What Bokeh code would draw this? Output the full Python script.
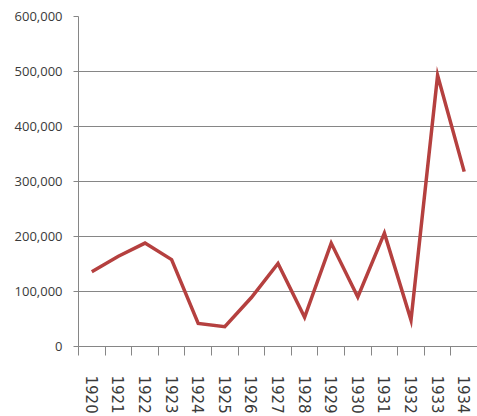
from bokeh.plotting import figure
from bokeh.models import FixedTicker, NumeralTickFormatter, Range1d
from bokeh.embed import file_html
from bokeh.resources import INLINE
import math

# Yearly totals
years = [1920, 1921, 1922, 1923, 1924, 1925, 1926, 1927,
         1928, 1929, 1930, 1931, 1932, 1933, 1934]
values = [136000, 164000, 188000, 158000, 42000, 36000, 89000, 151000,
          53000, 188000, 90000, 206000, 48000, 493000, 318000]
y_ticks = [0, 100000, 200000, 300000, 400000, 500000, 600000]

p = figure(width=477, height=416, output_backend="svg", toolbar_location=None,
           x_range=Range1d(years[0] - 0.5, years[-1] + 0.5),
           y_range=Range1d(0, 600000),
           min_border_left=78, min_border_right=0,
           min_border_top=16, min_border_bottom=66)
p.outline_line_color = None
p.background_fill_color = "white"
p.border_fill_color = "white"

p.line(years, values, line_color="#b5403f", line_width=3.5, line_join="miter")

axis_col = "#868686"
label_col = "#3a3a3a"

# x axis: labels at year centres, tick marks on the boundaries between years
xa = p.xaxis[0]
xa.ticker = FixedTicker(ticks=years,
                        minor_ticks=[y - 0.5 for y in years] + [years[-1] + 0.5])
xa.major_tick_in = 0
xa.major_tick_out = 0
xa.minor_tick_in = 0
xa.minor_tick_out = 9
xa.minor_tick_line_color = axis_col
xa.axis_line_color = axis_col
xa.major_label_orientation = -math.pi / 2
xa.major_label_standoff = 20
xa.major_label_text_font = "DejaVu Sans"
xa.major_label_text_font_size = "15px"
xa.major_label_text_color = label_col
xa.major_label_overrides = {y: str(y) for y in years}

# y axis
ya = p.yaxis[0]
ya.ticker = FixedTicker(ticks=y_ticks)
ya.formatter = NumeralTickFormatter(format="0,0")
ya.major_tick_in = 0
ya.major_tick_out = 5
ya.minor_tick_line_color = None
ya.major_tick_line_color = axis_col
ya.axis_line_color = axis_col
ya.major_label_standoff = 11
ya.major_label_text_font = "Open Sans"
ya.major_label_text_font_size = "13px"
ya.major_label_text_color = label_col

p.xgrid.grid_line_color = None
p.ygrid.grid_line_color = axis_col
p.ygrid.grid_line_width = 1

open("out.html", "w").write(file_html(p, INLINE))
